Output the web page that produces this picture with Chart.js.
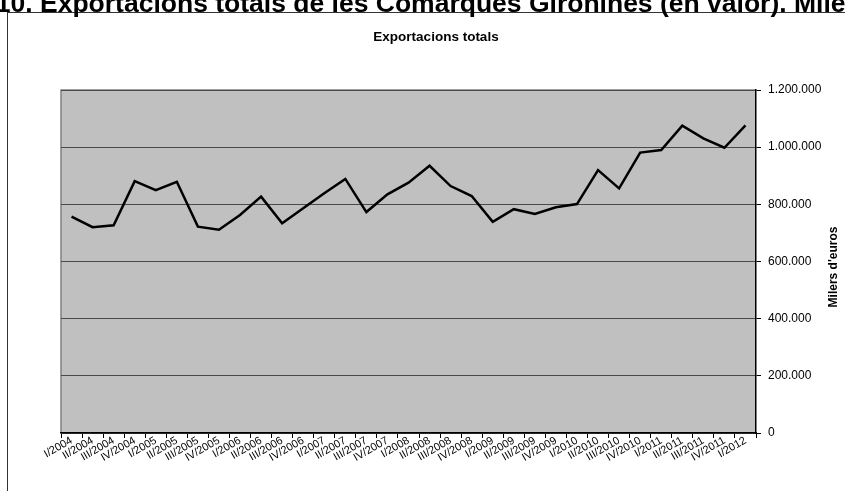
<!DOCTYPE html>
<html>
<head>
<meta charset="utf-8">
<script src="https://cdn.jsdelivr.net/npm/chart.js@4.4.0/dist/chart.umd.min.js"></script>
<style>
  html, body { margin: 0; padding: 0; background: #fff; overflow: hidden; }
  body { width: 845px; height: 491px; position: relative; font-family: "Liberation Sans", Arial, sans-serif; }
  #heading { position: absolute; left: 40px; top: -10px; font-size: 26.5px; line-height: 26px; font-weight: bold; white-space: nowrap; z-index: 2; color: #000; }
  #heading .pre { position: absolute; right: 100%; top: 0; }
  #box { position: absolute; left: 7px; top: 12px; width: 856px; height: 490px; border: 1px solid #333; background: #fff; }
  canvas { display: block; }
</style>
</head>
<body>
<div id="heading"><span class="pre">Gràfic 10.&nbsp;</span>Exportacions totals de les Comarques Gironines (en valor). Milers d'euros</div>
<div id="box"><canvas id="myChart" width="856" height="490"></canvas></div>
<script>
// quarters shown on the x axis
const quarters = [
  'I/2004', 'II/2004', 'III/2004', 'IV/2004',
  'I/2005', 'II/2005', 'III/2005', 'IV/2005',
  'I/2006', 'II/2006', 'III/2006', 'IV/2006',
  'I/2007', 'II/2007', 'III/2007', 'IV/2007',
  'I/2008', 'II/2008', 'III/2008', 'IV/2008',
  'I/2009', 'II/2009', 'III/2009', 'IV/2009',
  'I/2010', 'II/2010', 'III/2010', 'IV/2010',
  'I/2011', 'II/2011', 'III/2011', 'IV/2011',
  'I/2012'
];

// exportacions totals, milers d'euros
const exportsTotal = [
  757000, 720000, 727000, 881000,
  850000, 879000, 722000, 711000,
  763000, 827000, 734000, 786000,
  839000, 889000, 773000, 835000,
  876000, 935000, 864000, 829000,
  739000, 783000, 766000, 790000,
  801000, 920000, 856000, 981000,
  990000, 1075000, 1031000, 998000,
  1076000
];

const yMin = 0;
const yMax = 1200000;
const yStep = 200000;

const chartTitle = 'Exportacions totals';
const axisTitle = "Milers d'euros";
const fontFamily = '"Liberation Sans", Arial, sans-serif';

const fmt = v => String(v).replace(/\B(?=(\d{3})+(?!\d))/g, '.');

// grey plot area + titles drawn by hand (right axis title reads bottom-to-top)
const excelLook = {
  id: 'excelLook',
  beforeDraw(chart) {
    const { ctx, chartArea: a } = chart;
    ctx.save();
    ctx.fillStyle = '#c0c0c0';
    ctx.fillRect(a.left, a.top, a.right - a.left, a.bottom - a.top);
    ctx.strokeStyle = '#808080';
    ctx.lineWidth = 1.5;
    ctx.beginPath();
    ctx.moveTo(a.left, a.bottom);
    ctx.lineTo(a.left, a.top);
    ctx.lineTo(a.right, a.top);
    ctx.stroke();
    ctx.restore();
  },
  afterDraw(chart) {
    const { ctx, chartArea: a } = chart;
    ctx.save();
    ctx.fillStyle = '#000';
    ctx.font = 'bold 13.5px ' + fontFamily;
    ctx.textAlign = 'center';
    ctx.textBaseline = 'middle';
    ctx.fillText(chartTitle, chart.width / 2, 24);

    ctx.font = 'bold 12px ' + fontFamily;
    ctx.translate(a.right + 78, 254);
    ctx.rotate(-Math.PI / 2);
    ctx.fillText(axisTitle, 0, 0);
    ctx.restore();
  }
};

new Chart(document.getElementById('myChart'), {
  type: 'line',
  data: {
    labels: quarters,
    datasets: [{
      label: chartTitle,
      data: exportsTotal,
      borderColor: '#000',
      borderWidth: 2.5,
      pointRadius: 0,
      tension: 0,
      fill: false
    }]
  },
  options: {
    responsive: false,
    animation: false,
    layout: { padding: { left: 53, top: 77, right: 0, bottom: 15 } },
    plugins: {
      legend: { display: false },
      title: { display: false },
      tooltip: { enabled: false }
    },
    scales: {
      x: {
        offset: true,
        grid: { offset: true, drawOnChartArea: false, drawTicks: true, tickLength: 5, color: '#000', lineWidth: 1 },
        border: { display: true, color: '#000', width: 1.5 },
        ticks: {
          autoSkip: false, maxRotation: 30, minRotation: 30, padding: -4,
          color: '#000', font: { size: 11, family: fontFamily }
        },
        afterFit: s => { s.height = 55; }
      },
      y: {
        position: 'right',
        min: yMin,
        max: yMax,
        ticks: {
          stepSize: yStep, padding: 7, color: '#000',
          font: { size: 12, family: fontFamily },
          callback: v => fmt(v)
        },
        grid: { color: '#4a4a4a', lineWidth: 1, tickLength: 5, drawTicks: true, tickColor: '#000' },
        border: { color: '#000', width: 1.5 },
        afterFit: s => { s.width = 108; }
      }
    }
  },
  plugins: [excelLook]
});
</script>
</body>
</html>
